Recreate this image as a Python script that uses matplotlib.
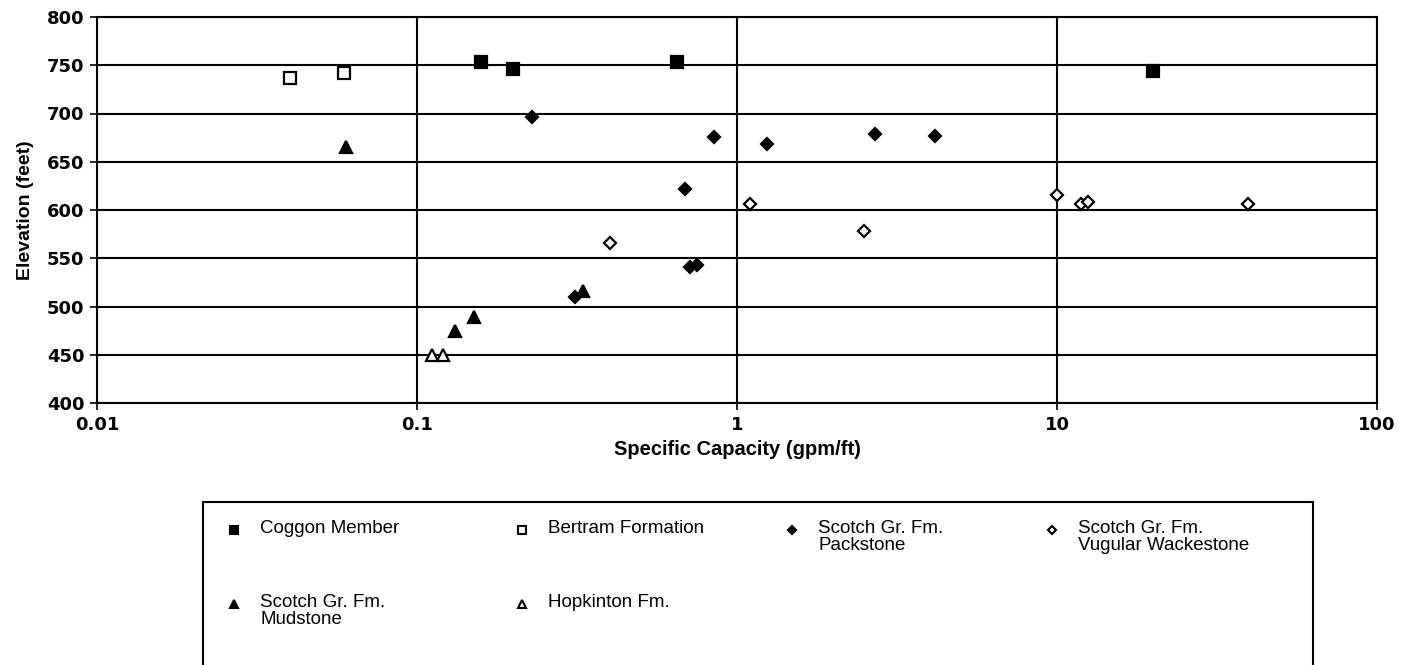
import numpy as np
import matplotlib.pyplot as plt
from matplotlib.patches import Rectangle
from matplotlib.lines import Line2D

# Specific capacity (gpm/ft) vs elevation (feet)
coggon_x = [0.159, 0.199, 0.648, 20.0]
coggon_y = [753, 746, 753, 744]

bertram_x = [0.040, 0.059]
bertram_y = [737, 742]

packstone_x = [0.228, 0.847, 1.24, 2.7, 4.16, 0.69, 0.711, 0.748, 0.312]
packstone_y = [696, 676, 668, 679, 677, 622, 541, 543, 510]

vugular_x = [0.402, 1.1, 2.49, 10.0, 11.9, 12.5, 39.5]
vugular_y = [566, 606, 578, 616, 606, 608, 606]

mudstone_x = [0.06, 0.131, 0.151, 0.33]
mudstone_y = [665, 475, 489, 516]

hopkinton_x = [0.111, 0.121]
hopkinton_y = [450, 450]

x_ticks = [0.01, 0.1, 1, 10, 100]
x_ticklabels = ["0.01", "0.1", "1", "10", "100"]
y_ticks = list(range(400, 801, 50))

W, H = 1404, 665
fig = plt.figure(figsize=(W / 100, H / 100), dpi=100)
ax = fig.add_axes([97 / W, 1 - 403 / H, (1377 - 97) / W, (403 - 17) / H])

tick_font = {"family": "DejaVu Sans", "weight": "bold", "size": 13}
lab_font = {"family": "Liberation Sans", "weight": "bold", "size": 14.5}
ylab_font = {"family": "Liberation Sans", "weight": "bold", "size": 14}
leg_font = {"family": "Liberation Sans", "size": 13.5}

series = [
    ("Coggon Member", coggon_x, coggon_y, "s", "black", 9),
    ("Bertram Formation", bertram_x, bertram_y, "s", "white", 9),
    ("Scotch Gr. Fm.\nPackstone", packstone_x, packstone_y, "D", "black", 6.5),
    ("Scotch Gr. Fm.\nVugular Wackestone", vugular_x, vugular_y, "D", "white", 6.5),
    ("Scotch Gr. Fm.\nMudstone", mudstone_x, mudstone_y, "^", "black", 9),
    ("Hopkinton Fm.", hopkinton_x, hopkinton_y, "^", "white", 9),
]

for label, xs, ys, mk, fc, ms in series:
    ax.plot(xs, ys, linestyle="none", marker=mk, markersize=ms,
            markerfacecolor=fc, markeredgecolor="black", markeredgewidth=1.6,
            zorder=3)

ax.set_xscale("log")
ax.set_xlim(0.01, 100)
ax.set_ylim(400, 800)
ax.set_xticks(x_ticks)
ax.set_xticklabels(x_ticklabels, fontdict=tick_font)
ax.xaxis.set_minor_locator(plt.NullLocator())
ax.set_yticks(y_ticks)
ax.set_yticklabels([str(v) for v in y_ticks], fontdict=tick_font)
ax.tick_params(axis="both", direction="out", length=5, width=1.2, color="black")
ax.tick_params(axis="x", pad=4)
ax.tick_params(axis="y", pad=4)
ax.grid(True, which="major", color="black", linewidth=1.5)
ax.set_axisbelow(True)
for sp in ax.spines.values():
    sp.set_linewidth(1.5)

ax.set_xlabel("Specific Capacity (gpm/ft)", fontdict=lab_font, labelpad=5)
ax.set_ylabel("Elevation (feet)", fontdict=ylab_font, labelpad=9)

# legend box running off the bottom of the figure
fig.add_artist(Rectangle((203 / W, -0.05), (1313 - 203) / W, 0.05 + 1 - 502 / H,
                         transform=fig.transFigure, fill=False,
                         edgecolor="black", linewidth=1.5))

col_x = [234, 522, 792, 1052]
row_y = [530, 604]
order = [(0, 0), (0, 1), (0, 2), (0, 3), (1, 0), (1, 1)]
for (r, c), (label, xs, ys, mk, fc, ms) in zip(order, series):
    mx = col_x[c] / W
    my = 1 - row_y[r] / H
    fig.add_artist(Line2D([mx], [my], transform=fig.transFigure, marker=mk,
                          markersize=ms * 0.68, markerfacecolor=fc,
                          markeredgecolor="black", markeredgewidth=1.5,
                          linestyle="none"))
    fig.text(mx + 26 / W, my + 10 / H, label, ha="left", va="top",
             linespacing=1.0, fontdict=leg_font)

fig.savefig("out.png", dpi=100)
